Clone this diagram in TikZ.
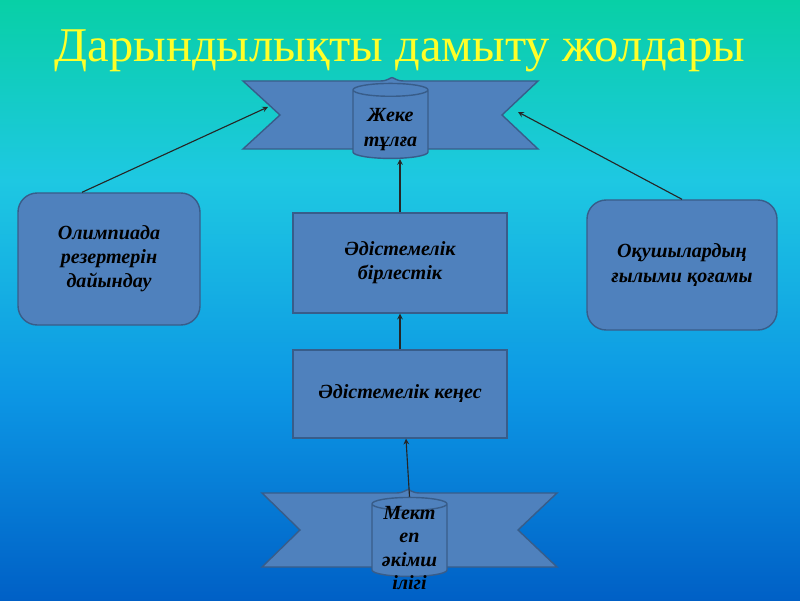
\documentclass[tikz,border=0pt]{standalone}
\usepackage{fontspec}
\setmainfont{Liberation Serif}
\usetikzlibrary{positioning}
\usetikzlibrary{shapes}
\usetikzlibrary{shapes.geometric}

\definecolor{bgtop}{RGB}{8,208,166}
\definecolor{bgcyan}{RGB}{30,200,226}
\definecolor{bgmid}{RGB}{12,150,228}
\definecolor{bgbot}{RGB}{0,96,198}
\definecolor{boxfill}{RGB}{79,129,189}
\definecolor{boxline}{RGB}{56,93,138}
\definecolor{titleyellow}{RGB}{255,255,40}

\pgfdeclareverticalshading{slidebg}{100bp}{color(0bp)=(bgbot); color(25bp)=(bgbot); color(42bp)=(bgmid); color(60bp)=(bgcyan); color(75bp)=(bgtop); color(100bp)=(bgtop)}

\begin{document}
\begin{tikzpicture}[>=stealth, thick,
    boxfont/.style={font=\fontsize{14.3}{17.2}\selectfont\bfseries\itshape},
    box/.style={draw=boxline, fill=boxfill, line width=1pt, align=center, boxfont},
    roundbox/.style={box, rounded corners=0.48cm},
    ribbon/.style={draw=boxline, fill=boxfill, line width=1pt},
    scroll/.style={box, shape=cylinder, shape border rotate=90, aspect=0.28, inner sep=0pt},
    link/.style={->, line width=0.8pt, black!85}]
        \useasboundingbox (0,0) rectangle (20,15);
        \fill[shading=slidebg] (0,0) rectangle (20,15);

        % Title
        \node[anchor=base, text=titleyellow, font=\fontsize{34.5}{40}\selectfont] (title) at (10,13.45) {Дарындылықты дамыту жолдары};

        % Top Ribbon: Жеке тұлға
        \draw[ribbon] (6.075,12.975) -- (9.5,12.975) .. controls (9.7,12.975) and (9.75,13.06) .. (9.8,13.06)
            .. controls (9.85,13.06) and (9.9,12.975) .. (10.1,12.975) -- (13.45,12.975) -- (12.55,12.125)
            -- (13.45,11.275) -- (6.075,11.275) -- (7.0,12.125) -- cycle;
        \coordinate (lwing) at (6.7,12.325);
        \coordinate (rwing) at (12.95,12.2);
        \node[scroll, minimum width=1.875cm, minimum height=1.875cm] (tulga) at (9.7625,11.8875) {\phantom{Жеке}};
        \node[align=center, font=\fontsize{14.3}{17.8}\selectfont\bfseries\itshape] (tulgatext) at (9.7625,11.76) {Жеке\\тұлға};

        % Bottom Ribbon: Мектеп әкімшілігі
        \draw[ribbon] (6.55,2.675) -- (9.9,2.675) .. controls (10.1,2.675) and (10.15,2.76) .. (10.2,2.76)
            .. controls (10.25,2.76) and (10.3,2.675) .. (10.5,2.675) -- (13.925,2.675) -- (12.95,1.75)
            -- (13.925,0.825) -- (6.55,0.825) -- (7.5,1.75) -- cycle;
        \node[scroll, minimum width=1.875cm, minimum height=1.975cm] (akim) at (10.2375,1.4875) {\phantom{Жеке}};
        \node[align=center, font=\fontsize{14.3}{16.4}\selectfont\bfseries\itshape] (akimtext) at (10.2375,1.3) {Мект\\еп\\әкімш\\ілігі};

        % Middle Nodes
        \node[box, minimum width=5.35cm, minimum height=2.5cm] (birlestik) at (10,8.425) {Әдістемелік\\бірлестік};
        \node[box, minimum width=5.35cm, minimum height=2.2cm] (kenes) at (10,5.15) {Әдістемелік кеңес};

        % Side Nodes
        \node[roundbox, minimum width=4.55cm, minimum height=3.3cm] (olimp) at (2.725,8.525) {Олимпиада\\резертерін\\дайындау};
        \node[roundbox, minimum width=4.75cm, minimum height=3.25cm] (oqu) at (17.05,8.375) {Оқушылардың\\ғылыми қоғамы};

        % Connectors
        \draw[link] (kenes.north) -- (birlestik.south);
        \draw[link] (birlestik.north) -- (birlestik.north |- tulga.south);
        \draw[link] (akim.north) -- ([xshift=0.15cm]kenes.south);
        \draw[link] ([xshift=-0.675cm]olimp.north) -- (lwing);
        \draw[link] (oqu.north) -- (rwing);

    \end{tikzpicture}
\end{document}
